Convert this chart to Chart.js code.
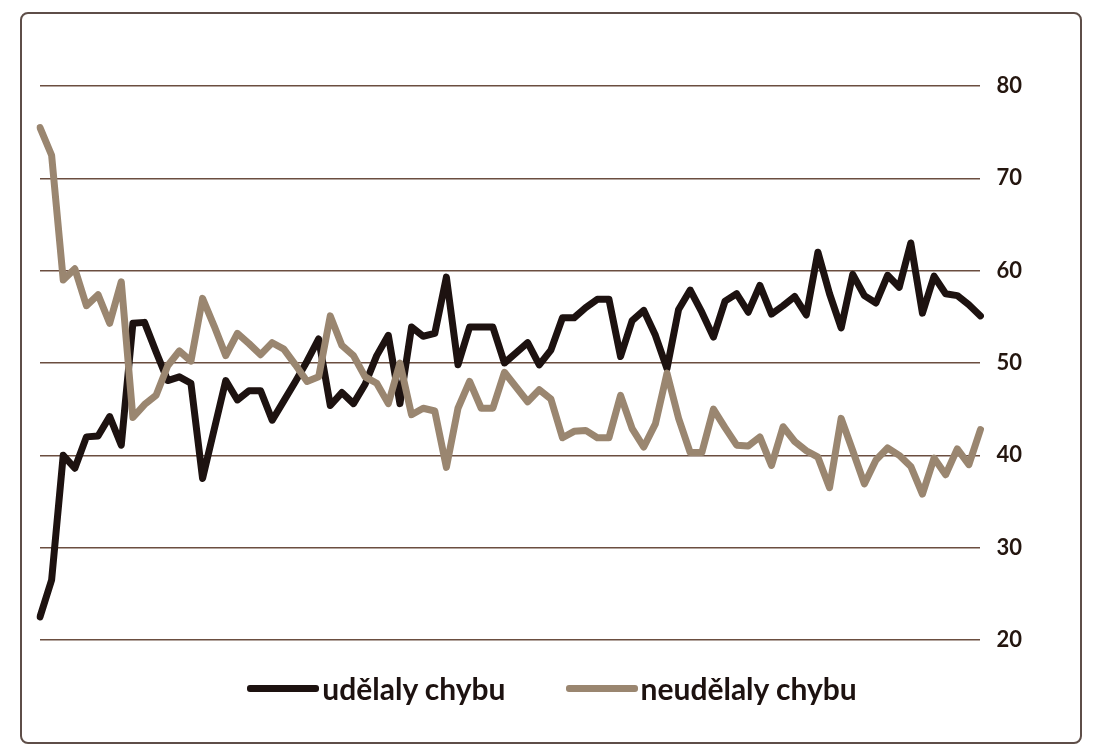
<!DOCTYPE html>
<html lang="cs">

<head>
  <meta charset="UTF-8">
  <title>Chyby</title>
  <script src="https://cdn.jsdelivr.net/npm/chart.js"></script>
  <style>
    html, body { margin: 0; padding: 0; background: #fff; }
    body { width: 1104px; height: 754px; position: relative; overflow: hidden; }
    .ramecek {
      position: absolute; left: 20px; top: 12px; width: 1062px; height: 732px;
      border: 2px solid #5e4e48; border-radius: 8px; box-sizing: border-box;
    }
    .graf { position: absolute; left: 0; top: 0; width: 1104px; height: 754px; }
    .legenda {
      position: absolute; left: 0; top: 670px; width: 1104px;
      display: flex; justify-content: center; align-items: center;
      font-family: Lato, "Open Sans", sans-serif; font-weight: 700; font-size: 30px; color: #1d1210;
    }
    .polozka { display: flex; align-items: center; margin: 0 30px; }
    .car { display: inline-block; width: 72px; height: 7px; border-radius: 3px; margin-right: 3px; }
  </style>
</head>

<body>
  <div class="ramecek"></div>
  <div class="graf">
    <canvas id="grafChyby" width="1104" height="754"></canvas>
  </div>
  <div class="legenda">
    <div class="polozka"><span class="car" style="background:#1d1210"></span>udělaly chybu</div>
    <div class="polozka"><span class="car" style="background:#9a8670"></span>neudělaly chybu</div>
  </div>

  <script>
    // hodnoty
    const udelalyChybu = [
      22.5, 26.5, 40.0, 38.6, 42.0, 42.1, 44.2, 41.1, 54.3, 54.4,
      51.2, 48.1, 48.5, 47.8, 37.5, 42.8, 48.1, 46.0, 47.0, 47.0,
      43.8, 45.9, 48.0, 50.2, 52.6, 45.4, 46.8, 45.6, 47.7, 50.8,
      53.0, 45.6, 53.9, 52.9, 53.2, 59.3, 49.8, 53.9, 53.9, 53.9,
      50.0, 51.1, 52.2, 49.8, 51.4, 54.9, 54.9, 56.0, 56.9, 56.9,
      50.7, 54.6, 55.7, 53.0, 49.4, 55.8, 57.9, 55.5, 52.8, 56.7,
      57.5, 55.5, 58.4, 55.3, 56.2, 57.2, 55.2, 62.0, 57.5, 53.8,
      59.6, 57.3, 56.5, 59.5, 58.2, 63.0, 55.4, 59.4, 57.5, 57.3,
      56.3, 55.1
    ];

    const neudelalyChybu = [
      75.5, 72.5, 59.0, 60.2, 56.2, 57.4, 54.3, 58.8, 44.1, 45.5,
      46.5, 49.7, 51.3, 50.2, 57.0, 54.0, 50.8, 53.2, 52.1, 50.9,
      52.2, 51.5, 49.8, 48.0, 48.5, 55.1, 51.9, 50.8, 48.5, 47.8,
      45.6, 50.0, 44.4, 45.1, 44.8, 38.7, 45.1, 48.0, 45.1, 45.1,
      49.0, 47.4, 45.8, 47.1, 46.1, 41.9, 42.6, 42.7, 41.9, 41.9,
      46.5, 42.9, 40.9, 43.4, 48.9, 44.0, 40.3, 40.3, 45.0, 43.0,
      41.1, 41.0, 42.0, 38.9, 43.1, 41.5, 40.5, 39.8, 36.5, 44.0,
      40.5, 36.9, 39.5, 40.8, 40.0, 38.8, 35.8, 39.7, 37.9, 40.7,
      39.0, 42.8
    ];

    const poradi = udelalyChybu.map((v, i) => String(i + 1));
    const osaY = [20, 30, 40, 50, 60, 70, 80];

    const ctx = document.getElementById('grafChyby');

    new Chart(ctx, {
      type: 'line',
      data: {
        labels: poradi,
        datasets: [
          {
            label: 'udělaly chybu',
            data: udelalyChybu,
            borderColor: '#1d1210',
            borderWidth: 7,
            order: 1
          },
          {
            label: 'neudělaly chybu',
            data: neudelalyChybu,
            borderColor: '#9a8670',
            borderWidth: 7,
            order: 0
          }
        ]
      },
      options: {
        responsive: false,
        animation: false,
        devicePixelRatio: 1,
        layout: { padding: { left: 40, right: 66, top: 86, bottom: 114 } },
        elements: {
          point: { radius: 0 },
          line: { tension: 0, borderJoinStyle: 'round', borderCapStyle: 'round' }
        },
        plugins: {
          legend: { display: false },
          tooltip: { enabled: false }
        },
        scales: {
          x: { display: false, offset: false },
          y: {
            position: 'right',
            min: osaY[0],
            max: osaY[osaY.length - 1],
            afterBuildTicks: (osa) => { osa.ticks = osaY.map(v => ({ value: v })); },
            border: { display: false },
            grid: { color: '#6b4e40', lineWidth: 1.5, drawTicks: false },
            ticks: {
              padding: 16,
              color: '#24160f',
              font: { family: 'Lato', weight: 'bold', size: 22 }
            }
          }
        }
      }
    });
  </script>
</body>

</html>
